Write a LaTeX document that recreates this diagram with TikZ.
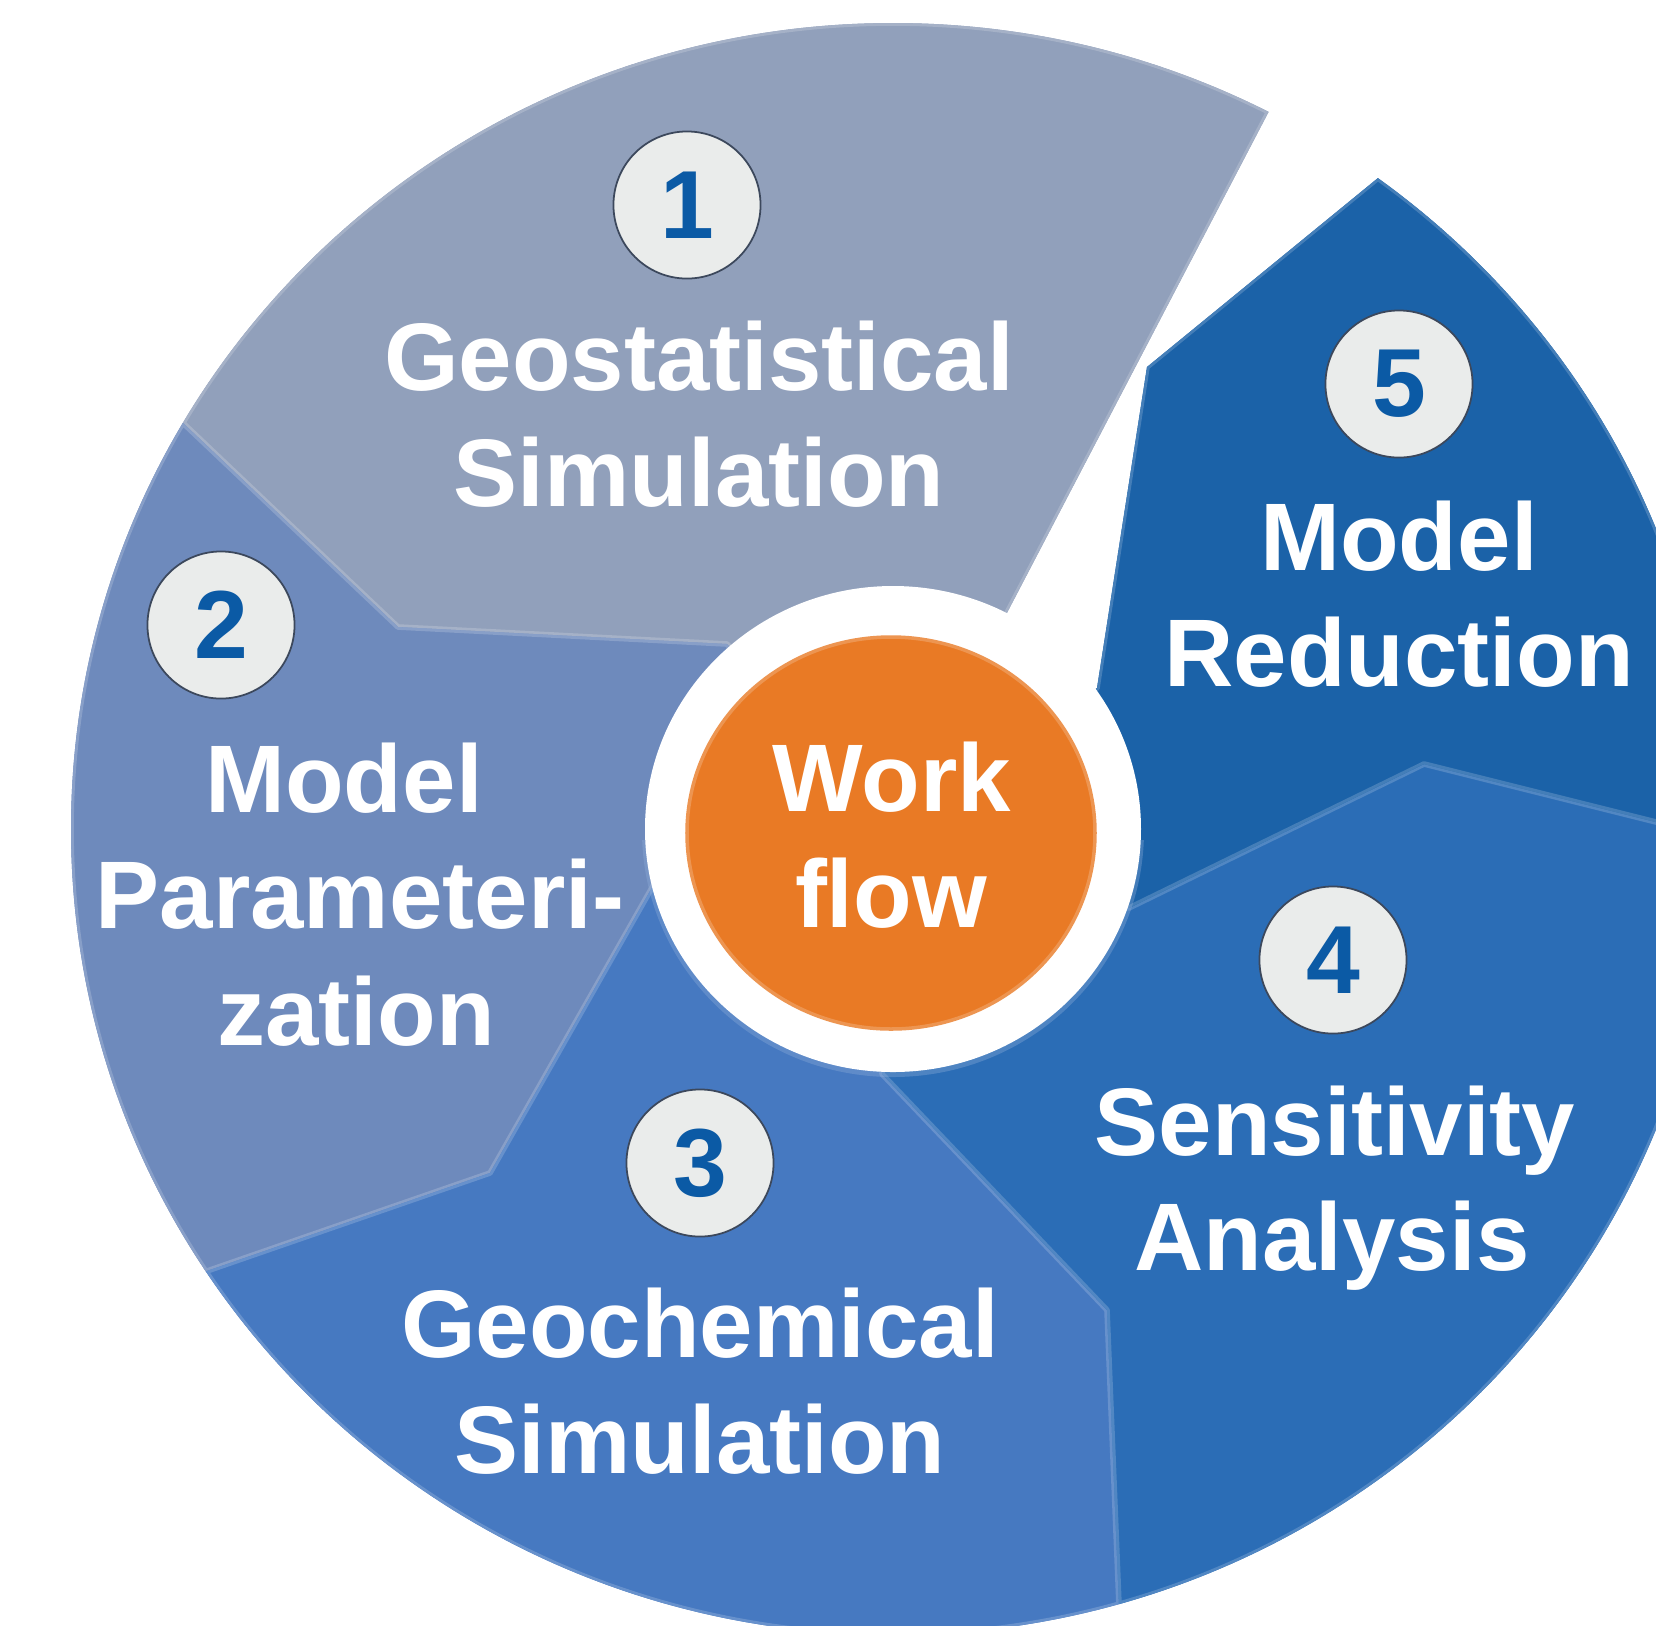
\documentclass[tikz,border=0pt]{standalone}
\usepackage{fontspec}
\setmainfont{Liberation Sans}
\definecolor{segA}{RGB}{145,160,187}
\definecolor{segB}{RGB}{110,138,188}
\definecolor{segC}{RGB}{70,121,193}
\definecolor{segD}{RGB}{43,109,182}
\definecolor{segE}{RGB}{27,98,168}
\definecolor{hub}{RGB}{233,122,37}
\definecolor{badgefill}{RGB}{234,236,235}
\definecolor{badgeline}{RGB}{60,72,92}
\definecolor{digit}{RGB}{11,90,165}
\tikzset{
	lbl/.style={anchor=base,inner sep=0pt,text=white,font=\fontsize{27.3}{33}\selectfont\bfseries},
	badge/.style={circle,draw=badgeline,line width=.5pt,fill=badgefill,minimum size=1.47cm,inner sep=0pt,text=digit,font=\fontsize{27.5}{33}\selectfont\bfseries},
	rim/.style={draw=#1!82!white,line width=1.6pt,line join=round}
}
\begin{document}
\begin{tikzpicture}[x=.01cm,y=-.01cm]
	\useasboundingbox (0,0) rectangle (1656,1626);
	\clip (0,0) rectangle (1656,1626);
	
	%Các mảnh quanh tâm
	\def\SA{(183,423)--(83,328)--(83,-200)--(1400,-200)--(1320,13)--(1268,113)--(1009,609)--(893,829)--(727,644)--(398,627)--cycle}
	\def\SB{(183,423)--(83,328)--(-100,328)--(-100,1400)--(107,1306)--(207,1271)--(490,1173)--(658,877)--(893,829)--(727,644)--(398,627)--cycle}
	\def\SC{(207,1271)--(107,1306)--(-100,1400)--(-100,1800)--(1127,1800)--(1119,1605)--(1107,1310)--(882,1074)--(893,829)--(658,877)--(490,1173)--cycle}
	\def\SD{(882,1074)--(1107,1310)--(1119,1605)--(1127,1800)--(1800,1800)--(1800,858)--(1424,764)--(1129,908)--(893,829)--cycle}
	\def\SE{(893,829)--(1097,688)--(1147,367)--(1378,178)--(1478,96)--(1800,96)--(1800,858)--(1424,764)--(1129,908)--cycle}
	\def\O{(893,829) ellipse [x radius=822,y radius=806]}
	
	\begin{scope}
		\clip \O;
		%mảnh 1
		\fill[segA] \SA;
		\begin{scope}\clip \SA; \draw[rim=segA] \SA \O; \end{scope}
		%mảnh 2
		\fill[segB] \SB;
		\begin{scope}\clip \SB; \draw[rim=segB] \SB \O; \end{scope}
		%mảnh 3
		\fill[segC] \SC;
		\begin{scope}\clip \SC; \draw[rim=segC] \SC \O; \end{scope}
		%mảnh 4
		\fill[segD] \SD;
		\begin{scope}\clip \SD; \draw[rim=segD] \SD \O; \end{scope}
		%mảnh 5
		\fill[segE] \SE;
		\begin{scope}\clip \SE; \draw[rim=segE] \SE \O; \end{scope}
	\end{scope}
	
	%Vòng trắng
	\begin{scope}
		\clip (600,840) rectangle (1200,1100);
		\fill[segC!60!white,opacity=.35] (893,831) ellipse [x radius=251,y radius=246];
	\end{scope}
	\fill[white] (893,829) ellipse [x radius=248,y radius=243];
	
	%Tâm cam
	\fill[hub] (891,833) ellipse [x radius=205,y radius=197];
	\draw[hub!80!white,line width=1pt] (891,833) ellipse [x radius=204,y radius=196];
	\node[lbl] (w1) at (892,811) {Work};
	\node[lbl] (w2) at (891,927) {flow};
	
	%Số thứ tự
	\node[badge] (n1) at (687,205) {1};
	\node[badge] (n2) at (221,625) {2};
	\node[badge] (n3) at (700,1163) {3};
	\node[badge] (n4) at (1333,960) {4};
	\node[badge] (n5) at (1399,384) {5};
	
	%Chữ
	\node[lbl] (t1a) at (699,390) {Geostatistical};
	\node[lbl] (t1b) at (699,506) {Simulation};
	\node[lbl] (t2a) at (344,812) {Model};
	\node[lbl] (t2b) at (360,928) {Parameteri-};
	\node[lbl] (t2c) at (356,1045) {zation};
	\node[lbl] (t3a) at (700,1357) {Geochemical};
	\node[lbl] (t3b) at (700,1473) {Simulation};
	\node[lbl] (t4a) at (1335,1155) {Sensitivity};
	\node[lbl] (t4b) at (1332,1270) {Analysis};
	\node[lbl] (t5a) at (1399,570) {Model};
	\node[lbl] (t5b) at (1399,686) {Reduction};
\end{tikzpicture}
\end{document}
